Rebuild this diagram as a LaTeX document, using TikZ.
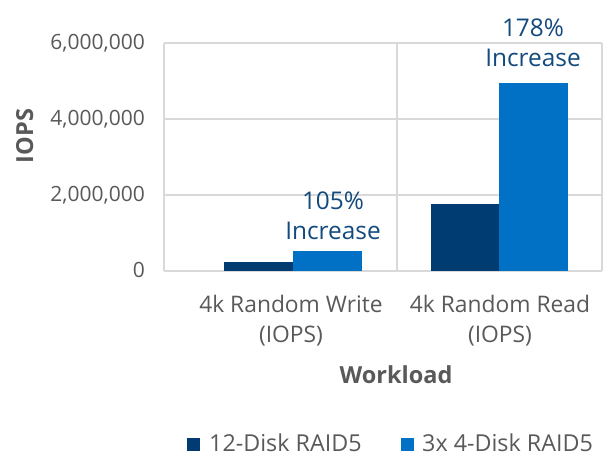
\documentclass[tikz,border=0pt]{standalone}
\usepackage{fontspec}
\setmainfont{Open Sans}
\definecolor{darkbar}{HTML}{003C71}
\definecolor{lightbar}{HTML}{0071C5}
\definecolor{gridgrey}{HTML}{D9D9D9}
\definecolor{labelgrey}{HTML}{595959}
\definecolor{notecol}{HTML}{134A7E}
\begin{document}
\begin{tikzpicture}[x=1pt,y=-1pt,
  tick/.style={anchor=base east,text=labelgrey,font=\fontsize{21}{25}\selectfont,inner sep=0pt},
  catlabel/.style={anchor=base,text=labelgrey,font=\fontsize{22.8}{27}\selectfont,inner sep=0pt},
  note/.style={anchor=base,text=notecol,font=\fontsize{24.4}{28}\selectfont,inner sep=0pt},
  axtitle/.style={text=labelgrey,font=\fontsize{23.5}{28}\selectfont\bfseries,inner sep=0pt},
  legtext/.style={anchor=base west,text=labelgrey,font=\fontsize{23.3}{27}\selectfont,inner sep=0pt},
  gridline/.style={draw=gridgrey,line width=1.2pt}]
\useasboundingbox (0,0) rectangle (603,457);

% plot area frame, gridlines and category divider
\draw[gridline] (164,43) -- (602,43);
\draw[gridline] (164,119) -- (602,119);
\draw[gridline] (164,195) -- (602,195);
\draw[gridline] (164,271) -- (602,271);
\draw[gridline] (164,43) -- (164,271);
\draw[gridline] (397,43) -- (397,271);
\draw[gridline] (602,43) -- (602,271);

% bars (0 at y=271, 2,000,000 per 76 units)
\fill[darkbar]  (224,262) rectangle (293,271);
\fill[lightbar] (293,251) rectangle (362,271);
\fill[darkbar]  (431,204) rectangle (499,271);
\fill[lightbar] (499,83)  rectangle (568,271);

% value axis labels
\node[tick] (t6) at (145,50)  {6,000,000};
\node[tick] (t4) at (145,126) {4,000,000};
\node[tick] (t2) at (145,202) {2,000,000};
\node[tick] (t0) at (145,278) {0};
\node[axtitle,rotate=90,anchor=base] (ytitle) at (33,136) {IOPS};

% category labels
\node[catlabel] (c1a) at (291,313) {4k Random Write};
\node[catlabel] (c1b) at (291,342) {(IOPS)};
\node[catlabel] (c2a) at (500,313) {4k Random Read};
\node[catlabel] (c2b) at (500,342) {(IOPS)};
\node[axtitle,anchor=base] (xtitle) at (396,383) {Workload};

% increase annotations
\node[note] (n1a) at (333,210) {105\%};
\node[note] (n1b) at (333,240) {Increase};
\node[note] (n2a) at (533,37) {178\%};
\node[note] (n2b) at (533,67) {Increase};

% legend
\fill[darkbar]  (187,438) rectangle (200,451);
\node[legtext] (l1) at (209,451) {12-Disk RAID5};
\fill[lightbar] (401,438) rectangle (414,451);
\node[legtext] (l2) at (422,451) {3x 4-Disk RAID5};
\end{tikzpicture}
\end{document}
